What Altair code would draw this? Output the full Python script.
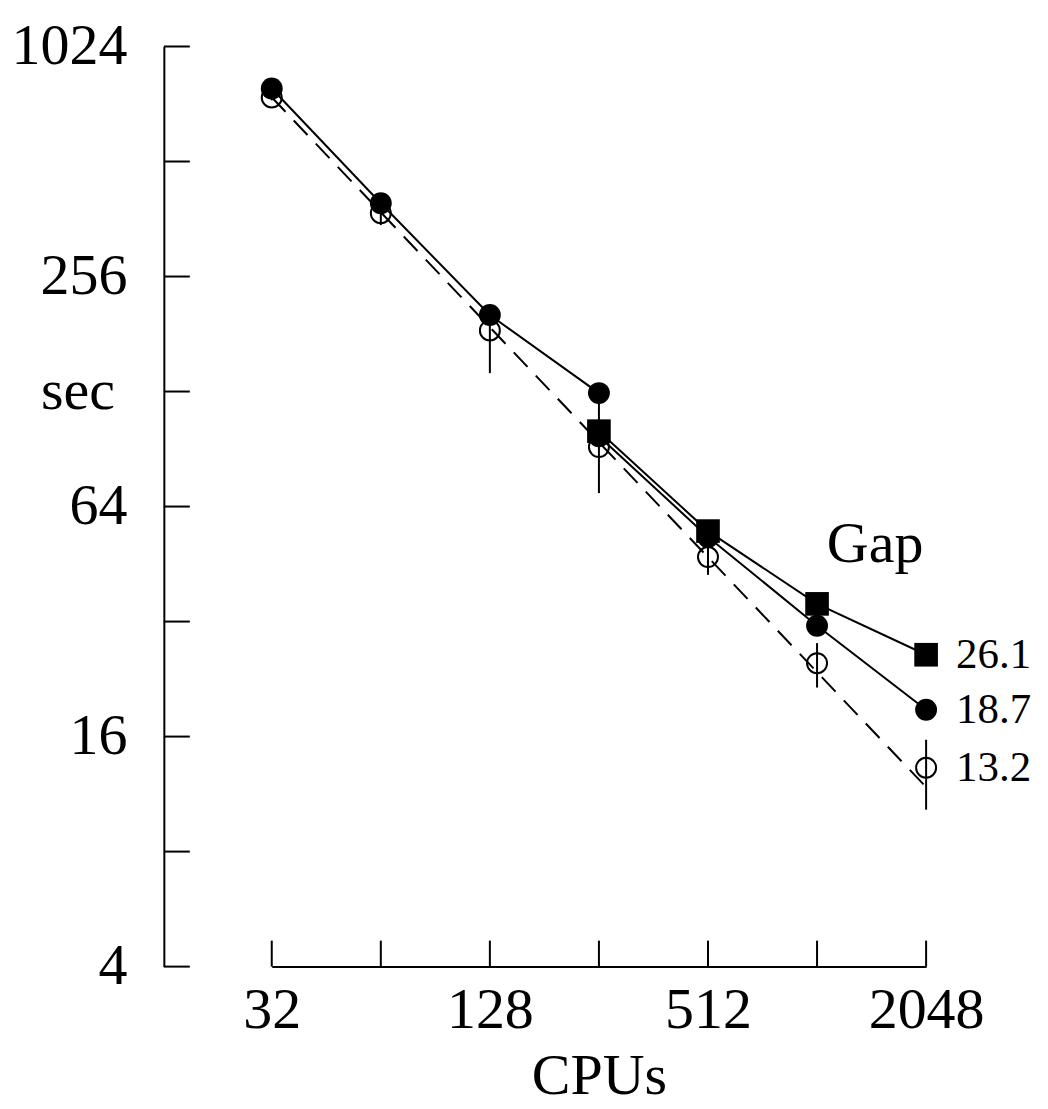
import altair as alt
import pandas as pd

# ---------------- data ----------------
x_ticks = [32, 64, 128, 256, 512, 1024, 2048]
y_ticks = [4, 8, 16, 32, 64, 128, 256, 512, 1024]

# Gap 18.7 : filled circles, solid line (two runs at 256 CPUs)
fc_cpus = [32, 64, 128, 256, 256, 512, 1024, 2048]
fc_sec = [795, 398, 203, 126.8, 97.8, 53.3, 31.2, 18.8]

# Gap 26.1 : filled squares, solid line
sq_cpus = [256, 512, 1024, 2048]
sq_sec = [100.8, 55.2, 35.6, 26.2]

# Gap 13.2 : open circles with error bars
oc_cpus = [32, 64, 128, 256, 512, 1024, 2048]
oc_sec = [753, 375, 185, 91.6, 47.2, 24.9, 13.26]
oc_lo = [740, 349, 143, 69.4, 42.4, 21.5, 10.3]
oc_hi = [768, 393, 199, 104.5, 51.4, 28.1, 15.7]

# dashed reference line
ideal_cpus = [32, 2048]
ideal_sec = [754, 11.8]

# end labels
gap_labels = ["26.1", "18.7", "13.2"]
gap_sec = [26.2, 18.8, 13.26]
gap_cpus = [2048, 2048, 2048]

legend_title = ["Gap"]
legend_cpus = [1481]
legend_sec = [50.8]

y_title = ["sec"]
y_title_sec = [128]

FONT = "Liberation Serif"

xscale = alt.Scale(type="log", base=2, domain=[32, 2048], nice=False)
yscale = alt.Scale(type="log", base=2, domain=[4, 1024], nice=False)

x_axis = alt.Axis(
    values=x_ticks, format="d",
    labelExpr="indexof([32,128,512,2048], datum.value) >= 0 ? datum.label : ''",
    ticks=False, grid=False, domainColor="black", domainWidth=2,
    labelFont=FONT, labelFontSize=58, labelColor="black", labelPadding=15,
    labelFlush=False, labelOverlap=False,
    title="CPUs", titleFont=FONT, titleFontSize=58, titleFontWeight="normal",
    titleColor="black", titlePadding=8,
)
y_axis = alt.Axis(
    values=y_ticks, format="d",
    labelExpr="indexof([4,16,64,256,1024], datum.value) >= 0 ? datum.label : ''",
    ticks=False, grid=False, domainColor="black", domainWidth=2, offset=108,
    labelFont=FONT, labelFontSize=58, labelColor="black", labelPadding=37,
    labelFlush=False, labelOverlap=False, labelBaseline="middle", title=None,
)

X = alt.X("cpus:Q", scale=xscale, axis=x_axis)
Y = alt.Y("sec:Q", scale=yscale, axis=y_axis)

fc_df = pd.DataFrame({"cpus": fc_cpus, "sec": fc_sec, "idx": list(range(len(fc_cpus)))})
sq_df = pd.DataFrame({"cpus": sq_cpus, "sec": sq_sec})
oc_df = pd.DataFrame({"cpus": oc_cpus, "sec": oc_sec, "lo": oc_lo, "hi": oc_hi})
ideal_df = pd.DataFrame({"cpus": ideal_cpus, "sec": ideal_sec})
lab_df = pd.DataFrame({"cpus": gap_cpus, "sec": gap_sec, "t": gap_labels})
leg_df = pd.DataFrame({"cpus": legend_cpus, "sec": legend_sec, "t": legend_title})
ytitle_df = pd.DataFrame({"sec": y_title_sec, "t": y_title})
xt_df = pd.DataFrame({"cpus": x_ticks})
yt_df = pd.DataFrame({"sec": y_ticks})

ideal = alt.Chart(ideal_df).mark_line(color="black", strokeWidth=2, strokeDash=[20, 12]).encode(x=X, y=Y)

err = alt.Chart(oc_df).mark_rule(color="black", strokeWidth=2).encode(
    x=X, y=alt.Y("lo:Q", scale=yscale, axis=y_axis), y2="hi:Q")

oc = alt.Chart(oc_df).mark_point(shape="circle", filled=False, size=400, color="black",
                                 strokeWidth=2, opacity=1).encode(x=X, y=Y)

fc_line = alt.Chart(fc_df).mark_line(color="black", strokeWidth=2).encode(
    x=X, y=Y, order="idx:Q")
fc_pts = alt.Chart(fc_df).mark_point(shape="circle", filled=True, size=480, color="black",
                                     opacity=1).encode(x=X, y=Y)

sq_line = alt.Chart(sq_df).mark_line(color="black", strokeWidth=2).encode(x=X, y=Y)
sq_pts = alt.Chart(sq_df).mark_point(shape="square", filled=True, size=560, color="black",
                                     opacity=1).encode(x=X, y=Y)

labels = alt.Chart(lab_df).mark_text(font=FONT, fontSize=43, align="left", baseline="middle",
                                     dx=30, color="black").encode(x=X, y=Y, text="t:N")
legend = alt.Chart(leg_df).mark_text(font=FONT, fontSize=58, align="center", baseline="middle",
                                     color="black").encode(x=X, y=Y, text="t:N")
ytitle = alt.Chart(ytitle_df).mark_text(font=FONT, fontSize=58, align="right", baseline="middle",
                                        color="black").encode(x=alt.value(-157), y=Y, text="t:N")

xticks = alt.Chart(xt_df).mark_rule(color="black", strokeWidth=2).encode(
    x=X, y=alt.value(921), y2=alt.value(895))
yticks = alt.Chart(yt_df).mark_rule(color="black", strokeWidth=2).encode(
    y=Y, x=alt.value(-108), x2=alt.value(-82))

chart = alt.layer(
    xticks, yticks, ideal, err, oc, fc_line, fc_pts, sq_line, sq_pts, labels, legend, ytitle
).properties(
    width=655, height=921,
    autosize=alt.AutoSizeParams(type="none"),
    padding={"left": 264, "top": 38, "right": 114, "bottom": 140},
).configure(background="white", view=alt.ViewConfig(stroke=None))

chart.save("out.html", embed_options={"renderer": "svg", "actions": False})
